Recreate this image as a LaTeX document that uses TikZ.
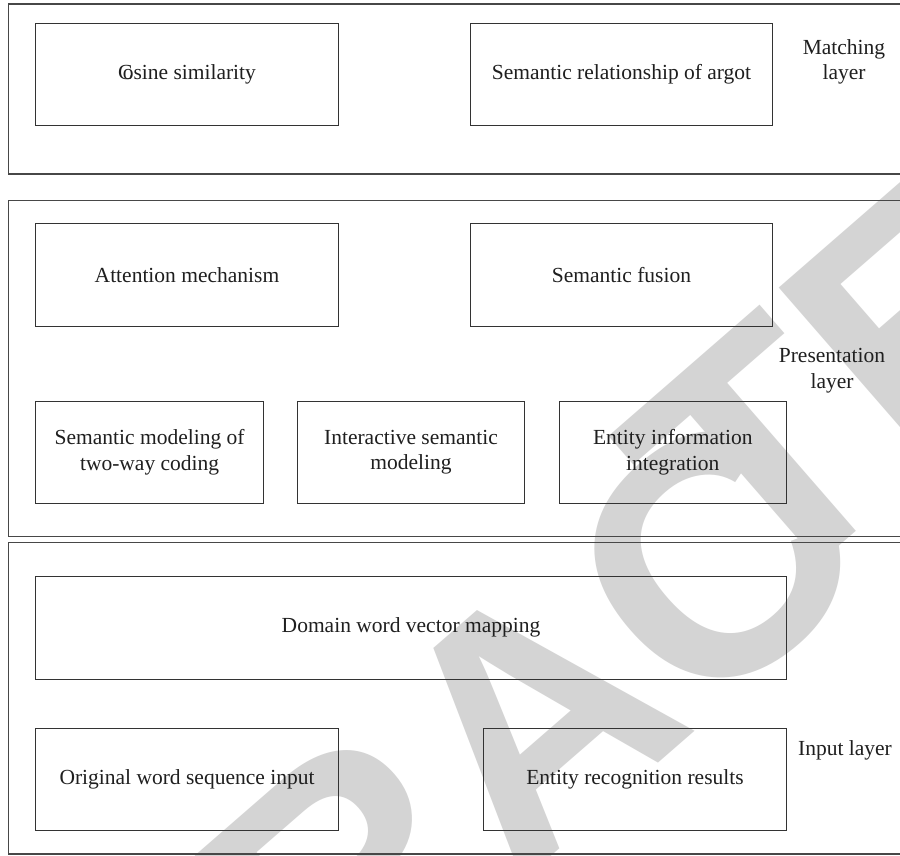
\documentclass[tikz,border=0pt]{standalone}
\usepackage{fontspec}
\setmainfont{Liberation Serif}
\newfontfamily\wmfont{Liberation Sans}
\begin{document}
\begin{tikzpicture}[x=1pt,y=-1pt,
  layerbox/.style={draw=black!72, line width=1.2pt, inner sep=0pt},
  blk/.style={draw=black!80, line width=0.9pt, inner sep=0pt, align=center,
    font=\fontsize{21.5}{25.5}\selectfont, text=black!88},
  lbl/.style={align=center, inner sep=0pt, font=\fontsize{21.5}{25.5}\selectfont, text=black!88},
  wm/.style={text=black!17, font=\wmfont\bfseries\fontsize{340}{340}\selectfont,
    inner sep=0pt, rotate=41, anchor=base}]
\useasboundingbox (0,0) rectangle (900,856);
\clip (0,0) rectangle (900,856);
\fill[white] (0,0) rectangle (900,856);
% watermark letters
\node[wm] (wmR) at (423.7,967.1) {R};
\node[wm] (wmA) at (609,806) {A};
\node[wm] (wmC) at (790,648) {C};
\node[wm] (wmT) at (837.6,547.6) {T};
\node[wm] (wmE) at (1001.4,405.2) {E};
% layers
\node[layerbox, minimum width=901.4pt, minimum height=170pt] (L1) at (459.3,89) {};
\node[layerbox, minimum width=901.4pt, minimum height=336pt] (L2) at (459.3,368.7) {};
\node[layerbox, minimum width=901.4pt, minimum height=311.3pt] (L3) at (459.3,698.35) {};
% matching layer
\node[blk, minimum width=302.7pt, minimum height=102.4pt] (cos) at (187,74.5) {C\kern-0.45em osine similarity};
\node[blk, minimum width=302.7pt, minimum height=102.4pt] (argot) at (621.5,74.5) {Semantic relationship of argot};
\node[lbl] (match) at (844,62) {Matching\\layer};
% presentation layer
\node[blk, minimum width=302.7pt, minimum height=102.7pt] (att) at (187,274.7) {Attention mechanism};
\node[blk, minimum width=302.7pt, minimum height=102.7pt] (fus) at (621.5,274.7) {Semantic fusion};
\node[blk, minimum width=228pt, minimum height=102.3pt] (two) at (149.6,452.2) {Semantic modeling of\\two-way coding};
\node[blk, minimum width=227.3pt, minimum height=102.3pt] (inter) at (411,452.2) {Interactive semantic\\modeling};
\node[blk, minimum width=227.5pt, minimum height=102.3pt] (ent) at (672.8,452.2) {Entity information\\integration};
\node[lbl] (pres) at (832,370.5) {Presentation\\layer};
% input layer
\node[blk, minimum width=751pt, minimum height=102.3pt] (dom) at (411,627.8) {Domain word vector mapping};
\node[blk, minimum width=303pt, minimum height=101.7pt] (orig) at (187,779.2) {Original word sequence input};
\node[blk, minimum width=303pt, minimum height=101.7pt] (rec) at (635,779.2) {Entity recognition results};
\node[lbl] (inp) at (845,750) {Input layer};
\end{tikzpicture}
\end{document}
